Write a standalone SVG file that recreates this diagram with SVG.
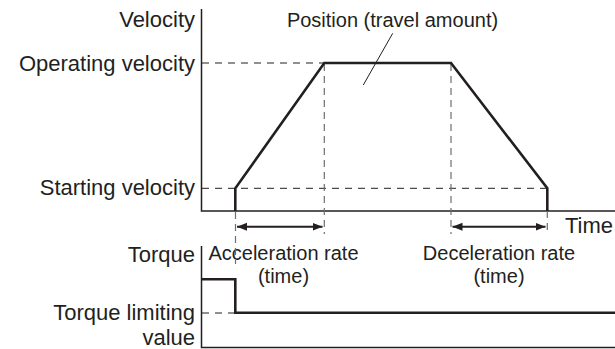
<svg xmlns="http://www.w3.org/2000/svg" width="615" height="349" viewBox="0 0 615 349">
<defs>
<style>
text{font-family:"Liberation Sans",Arial,sans-serif;fill:#231f20}
.lg{font-size:22px}
.sm{font-size:20px}
.r{text-anchor:end}
.c{text-anchor:middle}
.axis{stroke:#231f20;stroke-width:1.5;fill:none}
.thick{stroke:#231f20;stroke-width:2.6;fill:none;stroke-linejoin:miter}
.dash{stroke:#231f20;stroke-width:1;stroke-dasharray:7 6;fill:none}
.vdash{stroke:#6d6e71;stroke-width:1.2;stroke-dasharray:7 5;fill:none}
.dim{stroke:#231f20;stroke-width:2;fill:none;marker-start:url(#ah);marker-end:url(#ah)}
.lead{stroke:#231f20;stroke-width:1;fill:none}
</style>
<marker id="ah" viewBox="0 0 10 10" refX="10" refY="5" markerWidth="5" markerHeight="5" orient="auto-start-reverse" markerUnits="strokeWidth">
<path d="M0,1 L10,5 L0,9 Z" fill="#231f20"/>
</marker>
</defs>
<g id="labels">
<text class="lg r" x="195" y="27">Velocity</text>
<text class="lg r" x="195" y="71">Operating velocity</text>
<text class="lg r" x="195" y="195">Starting velocity</text>
<text class="lg" x="565" y="233">Time</text>
<text class="lg r" x="195" y="262">Torque</text>
<text class="lg r" x="195" y="320">Torque limiting<tspan x="195" dy="24.6">value</tspan></text>
<text class="sm c" x="392.5" y="27">Position (travel amount)</text>
<text class="sm c" x="283.5" y="260">Acceleration rate<tspan x="283.5" dy="22.5">(time)</tspan></text>
<text class="sm c" x="499" y="260">Deceleration rate<tspan x="499" dy="22.5">(time)</tspan></text>
</g>
<g id="axes">
<path class="axis" d="M201.5,9 V211 H615"/>
<path class="axis" d="M201.5,246 V347.5 H615"/>
</g>
<g id="connectors">
<path class="dash" d="M202,63 H324"/>
<path class="dash" d="M202,188.3 H547"/>
<path class="dash" d="M202,313 H235"/>
<path class="vdash" d="M324.3,64 V234"/>
<path class="vdash" d="M451,64 V234"/>
<path class="vdash" d="M547.3,211 V234"/>
<path class="vdash" d="M235.5,212 V264"/>
<path class="dim" d="M237,226.7 H322.5"/>
<path class="dim" d="M452.5,226.7 H545.5"/>
<path class="lead" d="M392.7,33.3 L363.3,85"/>
</g>
<g id="velocity-profile">
<path class="thick" d="M235.3,211 V188.3 L324.3,63 H451 L547.3,188.3 V211"/>
</g>
<g id="torque-profile">
<path class="thick" d="M202,279.3 H235.3 V312.7 H615"/>
</g>
</svg>
